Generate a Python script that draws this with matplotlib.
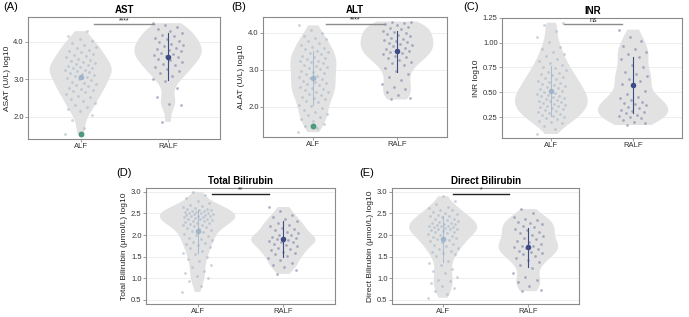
import numpy as np
import matplotlib
matplotlib.use("Agg")
import matplotlib.pyplot as plt
from matplotlib.ticker import FormatStrFormatter

plt.rcParams['font.family'] = ['Liberation Sans', 'DejaVu Sans']

groups = ['ALF', 'RALF']

# (A) AST, log10
ast_alf = [1.55, 1.72, 1.93, 2.05, 2.16, 2.22, 2.27, 2.33, 2.38, 2.43, 2.48, 2.52, 2.57, 2.62,
           2.66, 2.69, 2.72, 2.75, 2.78, 2.81, 2.85, 2.88, 2.91, 2.94, 2.98, 3.01, 3.04, 3.07,
           3.09, 3.11, 3.14, 3.16, 3.19, 3.21, 3.24, 3.26, 3.29, 3.31, 3.33, 3.36, 3.39, 3.41,
           3.43, 3.46, 3.48, 3.52, 3.55, 3.58, 3.62, 3.65, 3.68, 3.72, 3.75, 3.79, 3.83, 3.87,
           3.92, 3.97, 4.02, 4.07, 4.14, 4.28]
ast_ralf = [1.87, 2.31, 2.34, 2.52, 2.76, 2.95, 3.02, 3.1, 3.17, 3.22, 3.28, 3.33, 3.38, 3.42,
            3.46, 3.5, 3.54, 3.58, 3.61, 3.64, 3.68, 3.71, 3.74, 3.78, 3.81, 3.84, 3.88, 3.91,
            3.95, 3.98, 4.02, 4.06, 4.1, 4.14, 4.18, 4.23, 4.28, 4.33, 4.38, 4.44, 4.49]

# (B) ALT, log10
alt_alf = [1.32, 1.44, 1.48, 1.53, 1.62, 1.68, 1.73, 1.78, 1.82, 1.87, 1.91, 1.96, 2.02, 2.06,
           2.12, 2.17, 2.21, 2.25, 2.28, 2.32, 2.36, 2.39, 2.41, 2.45, 2.48, 2.52, 2.55, 2.58,
           2.61, 2.64, 2.68, 2.71, 2.74, 2.78, 2.81, 2.84, 2.88, 2.91, 2.94, 2.98, 3.01, 3.04,
           3.08, 3.11, 3.14, 3.18, 3.21, 3.24, 3.25, 3.28, 3.31, 3.34, 3.38, 3.42, 3.45, 3.48,
           3.52, 3.55, 3.58, 3.62, 3.67, 3.72, 3.77, 3.82, 3.87, 3.91, 3.98, 4.08, 4.2]
alt_ralf = [2.2, 2.24, 2.31, 2.4, 2.47, 2.55, 2.63, 2.72, 2.8, 2.9, 2.98, 3.06, 3.13, 3.18,
            3.22, 3.27, 3.32, 3.35, 3.38, 3.42, 3.45, 3.48, 3.51, 3.54, 3.57, 3.6, 3.63, 3.66,
            3.69, 3.72, 3.75, 3.78, 3.81, 3.84, 3.87, 3.9, 3.93, 3.96, 4.0, 4.03, 4.06, 4.1,
            4.13, 4.16, 4.2, 4.23, 4.26, 4.29, 4.3]

# (C) INR, log10
inr_alf = [0.08, 0.13, 0.16, 0.19, 0.2, 0.21, 0.23, 0.24, 0.25, 0.26, 0.27, 0.28, 0.29, 0.3,
           0.31, 0.32, 0.33, 0.34, 0.35, 0.36, 0.36, 0.37, 0.38, 0.39, 0.4, 0.41, 0.41, 0.42,
           0.43, 0.44, 0.45, 0.46, 0.46, 0.47, 0.48, 0.49, 0.5, 0.51, 0.52, 0.53, 0.54, 0.55,
           0.56, 0.57, 0.58, 0.59, 0.6, 0.61, 0.63, 0.64, 0.65, 0.67, 0.68, 0.69, 0.7, 0.72,
           0.74, 0.75, 0.77, 0.79, 0.81, 0.83, 0.86, 0.88, 0.91, 0.94, 0.96, 1.01, 1.06, 1.12,
           1.18, 1.2]
inr_ralf = [0.17, 0.19, 0.2, 0.22, 0.24, 0.25, 0.26, 0.27, 0.29, 0.3, 0.31, 0.32, 0.34, 0.35,
            0.37, 0.38, 0.39, 0.4, 0.42, 0.44, 0.45, 0.48, 0.51, 0.56, 0.58, 0.61, 0.63, 0.66,
            0.68, 0.7, 0.75, 0.77, 0.83, 0.85, 0.88, 0.91, 0.94, 0.97, 1.02, 1.06, 1.13]

# (D) total bilirubin, log10
tbil_alf = [0.68, 0.82, 0.93, 1.0, 1.05, 1.12, 1.17, 1.26, 1.31, 1.41, 1.44, 1.48, 1.55, 1.59,
            1.62, 1.69, 1.72, 1.76, 1.79, 1.82, 1.85, 1.88, 1.91, 1.94, 1.97, 2.0, 2.03, 2.06,
            2.09, 2.12, 2.14, 2.17, 2.19, 2.22, 2.23, 2.24, 2.26, 2.28, 2.29, 2.3, 2.32, 2.33,
            2.34, 2.36, 2.37, 2.38, 2.4, 2.41, 2.42, 2.43, 2.44, 2.45, 2.46, 2.47, 2.48, 2.49,
            2.5, 2.51, 2.52, 2.53, 2.54, 2.55, 2.56, 2.57, 2.59, 2.6, 2.61, 2.63, 2.65, 2.67,
            2.7, 2.74, 2.79, 2.85, 2.93, 3.0]
tbil_ralf = [1.1, 1.2, 1.27, 1.31, 1.35, 1.42, 1.46, 1.51, 1.55, 1.58, 1.61, 1.65, 1.68, 1.71,
             1.74, 1.77, 1.8, 1.83, 1.85, 1.86, 1.89, 1.9, 1.92, 1.93, 1.96, 1.99, 2.01, 2.04,
             2.07, 2.11, 2.14, 2.17, 2.21, 2.24, 2.28, 2.32, 2.36, 2.41, 2.47, 2.55, 2.65]

# (E) direct bilirubin, log10
dbil_alf = [0.55, 0.63, 0.71, 0.77, 0.82, 0.88, 0.93, 0.97, 1.02, 1.11, 1.16, 1.22, 1.31, 1.36,
            1.41, 1.51, 1.55, 1.58, 1.61, 1.64, 1.68, 1.71, 1.74, 1.77, 1.8, 1.83, 1.86, 1.88,
            1.9, 1.92, 1.94, 1.96, 1.98, 2.0, 2.02, 2.04, 2.06, 2.08, 2.1, 2.12, 2.13, 2.14,
            2.15, 2.16, 2.18, 2.19, 2.2, 2.21, 2.22, 2.24, 2.25, 2.26, 2.27, 2.28, 2.3, 2.32,
            2.34, 2.36, 2.38, 2.41, 2.43, 2.45, 2.47, 2.49, 2.51, 2.54, 2.57, 2.59, 2.62, 2.66,
            2.72, 2.79, 2.9]
dbil_ralf = [0.7, 0.72, 0.83, 0.91, 0.96, 1.02, 1.12, 1.24, 1.31, 1.37, 1.42, 1.47, 1.51, 1.55,
             1.58, 1.61, 1.64, 1.68, 1.7, 1.72, 1.74, 1.75, 1.8, 1.83, 1.87, 1.9, 1.93, 1.97,
             2.01, 2.05, 2.08, 2.11, 2.15, 2.18, 2.21, 2.25, 2.28, 2.31, 2.35, 2.38, 2.42, 2.5,
             2.6]

# group means and sd
means = {'A': [3.05, 3.6], 'B': [2.78, 3.5], 'C': [0.51, 0.57], 'D': [2.09, 1.91], 'E': [1.91, 1.72]}
sds = {'A': [0.0, 0.63], 'B': [0.72, 0.55], 'C': [0.25, 0.28], 'D': [0.5, 0.42], 'E': [0.53, 0.45]}
highlight = {'A': 1.55, 'B': 1.48}   # green point in ALF
signif = {'A': '****', 'B': '****', 'C': 'ns', 'D': '**', 'E': '*'}
titles = {'A': 'AST', 'B': 'ALT', 'C': 'INR', 'D': 'Total Bilirubin', 'E': 'Direct Bilirubin'}
ylabels = {'A': 'ASAT (U/L) log10', 'B': 'ALAT (U/L) log10', 'C': 'INR log10',
           'D': 'Total Bilirubin (\u03bcmol/L) log10', 'E': 'Direct Bilirubin (\u03bcmol/L) log10'}
data = {'A': (ast_alf, ast_ralf), 'B': (alt_alf, alt_ralf), 'C': (inr_alf, inr_ralf),
        'D': (tbil_alf, tbil_ralf), 'E': (dbil_alf, dbil_ralf)}

# layout: axes rect, ylim, yticks, tick format, violin widths, bar pos
layout = {
    'A': dict(rect=[0.041, 0.562, 0.279, 0.385], ylim=(1.42, 4.66), yt=[2, 3, 4], fmt='%.1f',
              w=[0.71, 0.77], bar=(1.15, 1.84, 4.47), barc='#8c8c8c'),
    'B': dict(rect=[0.382, 0.568, 0.267, 0.379], ylim=(1.19, 4.43), yt=[2, 3, 4], fmt='%.1f',
              w=[0.55, 0.87], bar=(1.15, 1.84, 4.24), barc='#8c8c8c'),
    'C': dict(rect=[0.729, 0.565, 0.261, 0.379], ylim=(0.04, 1.25),
              yt=[0.25, 0.5, 0.75, 1.0, 1.25], fmt='%.2f',
              w=[0.89, 0.86], bar=(1.15, 1.87, 1.19), barc='#8c8c8c'),
    'D': dict(rect=[0.212, 0.042, 0.274, 0.365], ylim=(0.41, 3.09),
              yt=[0.5, 1.0, 1.5, 2.0, 2.5, 3.0], fmt='%.1f',
              w=[0.88, 0.75], bar=(1.17, 1.83, 2.96), barc='#222222'),
    'E': dict(rect=[0.569, 0.042, 0.272, 0.365], ylim=(0.41, 3.09),
              yt=[0.5, 1.0, 1.5, 2.0, 2.5, 3.0], fmt='%.1f',
              w=[0.80, 0.70], bar=(1.12, 1.77, 2.96), barc='#222222'),
}
label_pos = {'A': (0.004, 0.995), 'B': (0.336, 0.995), 'C': (0.672, 0.995),
             'D': (0.168, 0.47), 'E': (0.521, 0.47)}

pt_col = ['#a6b8ca', '#7d84a8']
mean_col = ['#9fb5cb', '#3e4c86']
violin_col = '#e2e2e2'
frame_col = '#8a8a8a'

fig = plt.figure(figsize=(6.89, 3.17), dpi=100)

for key in ['A', 'B', 'C', 'D', 'E']:
    lay = layout[key]
    ax = fig.add_axes(lay['rect'])
    vals = data[key]
    parts = ax.violinplot([np.array(v) for v in vals], positions=[1, 2], widths=lay['w'],
                          showextrema=False, showmeans=False, showmedians=False,
                          bw_method=0.3, points=200)
    for body in parts['bodies']:
        body.set_facecolor(violin_col)
        body.set_edgecolor('none')
        body.set_alpha(1)
        body.set_zorder(1)
    for gi, v in enumerate(vals):
        n = len(v)
        jit = (((np.arange(n) * 0.618034 + 0.3 * gi) % 1.0) - 0.5) * 0.36
        ax.scatter(gi + 1 + jit, v, s=4, color=pt_col[gi], alpha=0.6, linewidths=0, zorder=3)
        m, sd = means[key][gi], sds[key][gi]
        if sd > 0:
            ax.plot([gi + 1, gi + 1], [m - sd, m + sd], color=mean_col[gi], lw=0.8,
                    alpha=0.8 if gi == 0 else 1, zorder=4)
        ax.scatter([gi + 1], [m], s=16, color=mean_col[gi], linewidths=0, zorder=5)
    if key in highlight:
        ax.scatter([1], [highlight[key]], s=18, color='#4e9a7e', linewidths=0, zorder=5)

    x0, x1, yb = lay['bar']
    ax.plot([x0, x1], [yb, yb], color=lay['barc'], lw=1.0, zorder=2)
    ax.text((x0 + x1) / 2, yb, signif[key], ha='center', va='bottom', fontsize=5,
            color='#222222')

    ax.set_xlim(0.4, 2.6)
    ax.set_ylim(*lay['ylim'])
    ax.set_xticks([1, 2])
    ax.set_xticklabels(groups)
    ax.set_yticks(lay['yt'])
    ax.yaxis.set_major_formatter(FormatStrFormatter(lay['fmt']))
    ax.tick_params(axis='both', labelsize=5.5, length=2, width=0.6, color=frame_col,
                   labelcolor='#333333', pad=1.2)
    ax.grid(axis='y', color='#ebebeb', lw=0.6, zorder=0)
    ax.set_axisbelow(True)
    for sp in ax.spines.values():
        sp.set_color(frame_col)
        sp.set_linewidth(0.8)
    ax.set_title(titles[key], fontsize=7, fontweight='bold', pad=3)
    ax.set_ylabel(ylabels[key], fontsize=6, labelpad=2, color='#222222')

    lx, ly = label_pos[key]
    fig.text(lx, ly, '(' + key + ')', fontsize=8, ha='left', va='top')

fig.savefig('out.png', dpi=100)
